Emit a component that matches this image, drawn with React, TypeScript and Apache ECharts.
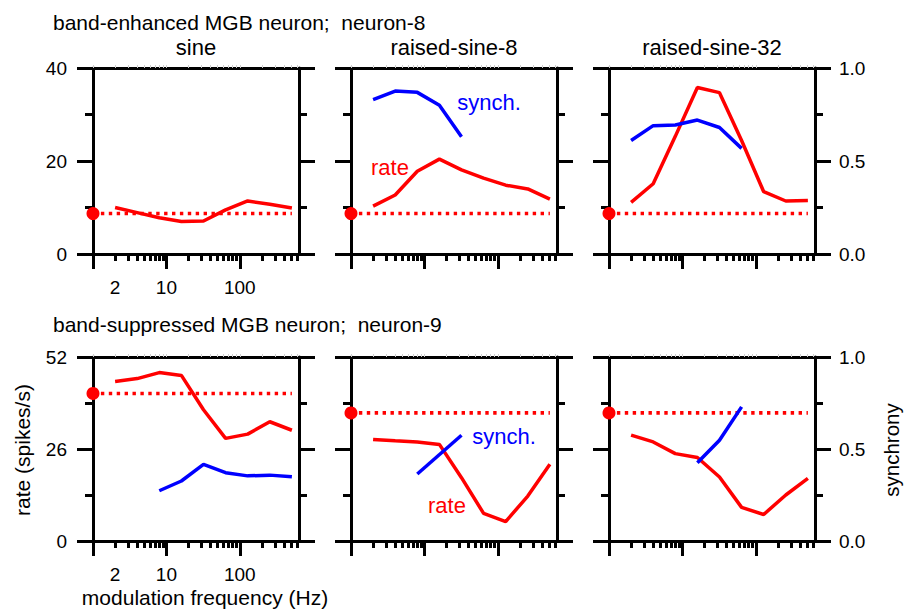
import React, { useEffect, useRef } from "react";
import * as echarts from "echarts";

// ---------- data ----------
const FREQS = [2, 4, 8, 16, 32, 64, 128, 256, 512];
const X_MAJOR_TICKS = [1, 10, 100];
const X_MINOR_TICKS = [2, 3, 4, 5, 6, 7, 8, 9, 20, 30, 40, 50, 60, 70, 80, 90, 200, 300, 400, 500, 600];
const X_TICK_LABELS = [2, 10, 100];
const X_MIN = 1;
const X_MAX = 640;
const SPONT_FREQ = 1;

const ROW_TITLES = ["band-enhanced MGB neuron;  neuron-8", "band-suppressed MGB neuron;  neuron-9"];
const PANEL_TITLES = ["sine", "raised-sine-8", "raised-sine-32"];
const RATE_MAX = [40, 52];

// neuron-8 (band-enhanced)
const rateN8Sine = [10.0, 8.9, 7.8, 7.0, 7.1, 9.5, 11.4, 10.7, 9.9];
const rateN8RS8 = [10.3, 12.7, 17.8, 20.4, 18.1, 16.3, 14.8, 14.0, 11.8];
const rateN8RS32 = [11.1, 15.1, 25.3, 35.8, 34.7, 24.4, 13.4, 11.4, 11.5];
const synchFreqN8RS8 = [2, 4, 8, 16, 32];
const synchN8RS8 = [0.83, 0.876, 0.869, 0.80, 0.63];
const synchFreqN8RS32 = [2, 4, 8, 16, 32, 64];
const synchN8RS32 = [0.61, 0.69, 0.694, 0.72, 0.68, 0.568];
const spontN8 = [8.7, 8.7, 8.7];

// neuron-9 (band-suppressed)
const rateN9Sine = [45.1, 45.9, 47.6, 46.8, 37.1, 29.0, 30.2, 33.7, 31.3];
const synchFreqN9Sine = [8, 16, 32, 64, 128, 256, 512];
const synchN9Sine = [0.273, 0.326, 0.416, 0.371, 0.354, 0.358, 0.349];
const rateN9RS8 = [28.7, 28.3, 28.0, 27.3, 17.9, 7.8, 5.5, 12.7, 21.7];
const synchFreqN9RS8 = [8, 32];
const synchN9RS8 = [0.364, 0.575];
const rateN9RS32 = [29.9, 28.0, 24.7, 23.6, 18.1, 9.5, 7.5, 13.0, 17.7];
const synchFreqN9RS32 = [16, 32, 64];
const synchN9RS32 = [0.425, 0.548, 0.729];
const spontN9 = [41.7, 36.2, 36.2];

const PANELS = [
  { row: 0, col: 0, rate: rateN8Sine, synchF: [] as number[], synch: [] as number[], spont: spontN8[0] },
  { row: 0, col: 1, rate: rateN8RS8, synchF: synchFreqN8RS8, synch: synchN8RS8, spont: spontN8[1] },
  { row: 0, col: 2, rate: rateN8RS32, synchF: synchFreqN8RS32, synch: synchN8RS32, spont: spontN8[2] },
  { row: 1, col: 0, rate: rateN9Sine, synchF: synchFreqN9Sine, synch: synchN9Sine, spont: spontN9[0] },
  { row: 1, col: 1, rate: rateN9RS8, synchF: synchFreqN9RS8, synch: synchN9RS8, spont: spontN9[1] },
  { row: 1, col: 2, rate: rateN9RS32, synchF: synchFreqN9RS32, synch: synchN9RS32, spont: spontN9[2] },
];

// ---------- layout / style ----------
const FONT = "'Liberation Sans', Arial, sans-serif";
const RED = "#ff0000";
const BLUE = "#0000ff";
const INK = "#000000";
const GRID_LEFT = [93, 351, 609];
const GRID_W = 206;
const GRID_TOP = [68, 357];
const GRID_H = [186, 184];

function buildOption() {
  const grid: any[] = [];
  const xAxis: any[] = [];
  const yAxis: any[] = [];
  const series: any[] = [];

  PANELS.forEach((p, k) => {
    grid.push({ left: GRID_LEFT[p.col], top: GRID_TOP[p.row], width: GRID_W, height: GRID_H[p.row], containLabel: false });
    const axisLine = { show: true, onZero: false, lineStyle: { color: INK, width: 3 } };
    // bottom main axis (major ticks + labels)
    xAxis.push({
      gridIndex: k, type: "log", logBase: 10, min: X_MIN, max: X_MAX, position: "bottom",
      axisLine,
      axisTick: { show: true, customValues: X_MAJOR_TICKS, length: 15, lineStyle: { color: INK, width: 3 } },
      axisLabel: { show: p.col === 0, customValues: X_TICK_LABELS, fontSize: 19, fontFamily: FONT, color: INK, margin: 24 },
      splitLine: { show: false },
    });
    // bottom minor ticks
    xAxis.push({
      gridIndex: k, type: "log", logBase: 10, min: X_MIN, max: X_MAX, position: "bottom",
      axisLine: { show: false, onZero: false },
      axisTick: { show: true, customValues: X_MINOR_TICKS, length: 7, lineStyle: { color: INK, width: 3 } },
      axisLabel: { show: false },
      splitLine: { show: false },
    });
    // top axis
    xAxis.push({
      gridIndex: k, type: "log", logBase: 10, min: X_MIN, max: X_MAX, position: "top",
      axisLine,
      axisTick: { show: true, customValues: X_MAJOR_TICKS.concat(X_MINOR_TICKS), length: 3, lineStyle: { color: "#cfcfcf", width: 1 } },
      axisLabel: { show: false },
      splitLine: { show: false },
    });
    const rmax = RATE_MAX[p.row];
    yAxis.push({
      gridIndex: k, type: "value", min: 0, max: rmax, interval: rmax / 2, position: "left",
      axisLine,
      axisTick: { show: true, length: 16, lineStyle: { color: INK, width: 3 } },
      minorTick: { show: true, splitNumber: 2, length: 8, lineStyle: { color: INK, width: 3 } },
      axisLabel: { show: p.col === 0, fontSize: 19, fontFamily: FONT, color: INK, margin: 26 },
      splitLine: { show: false },
    });
    yAxis.push({
      gridIndex: k, type: "value", min: 0, max: 1, interval: 0.5, position: "right",
      axisLine,
      axisTick: { show: true, length: 16, lineStyle: { color: INK, width: 3 } },
      minorTick: { show: true, splitNumber: 2, length: 8, lineStyle: { color: INK, width: 3 } },
      axisLabel: { show: p.col === 2, fontSize: 19, fontFamily: FONT, color: INK, margin: 24, formatter: (v: number) => v.toFixed(1) },
      splitLine: { show: false },
    });

    const xi = k * 3;
    const yi = k * 2;
    // spontaneous rate: dotted line + dot
    series.push({
      type: "line", xAxisIndex: xi, yAxisIndex: yi, clip: false, symbol: "none", silent: true,
      data: [[SPONT_FREQ, p.spont], [FREQS[FREQS.length - 1], p.spont]],
      lineStyle: { color: RED, width: 3.6, type: [3.4, 4.5] },
    });
    series.push({
      type: "scatter", xAxisIndex: xi, yAxisIndex: yi, clip: false, symbol: "circle", symbolSize: 13,
      data: [[SPONT_FREQ, p.spont]], itemStyle: { color: RED, opacity: 1 },
    });
    // rate
    series.push({
      type: "line", xAxisIndex: xi, yAxisIndex: yi, symbol: "none", clip: false,
      data: FREQS.map((f, i) => [f, p.rate[i]]),
      lineStyle: { color: RED, width: 3.5 },
    });
    // synchrony
    if (p.synch.length) {
      series.push({
        type: "line", xAxisIndex: xi, yAxisIndex: yi + 1, symbol: "none", clip: false,
        data: p.synchF.map((f, i) => [f, p.synch[i]]),
        lineStyle: { color: BLUE, width: 3.5 },
      });
    }
  });

  const txt = (text: string, x: number, y: number, opts: any = {}) => ({
    type: "text", x, y, rotation: opts.rotation || 0, silent: true,
    style: {
      text, fill: opts.fill || INK, fontSize: opts.fontSize || 21, fontFamily: FONT,
      align: opts.align || "center", verticalAlign: "middle",
    },
  });

  const graphic: any[] = [
    txt(ROW_TITLES[0], 53, 22, { align: "left" }),
    txt(ROW_TITLES[1], 53, 324, { align: "left" }),
    ...PANEL_TITLES.map((t, c) => txt(t, GRID_LEFT[c] + GRID_W / 2, 47, { fontSize: 22 })),
    txt("rate (spikes/s)", 22, 450, { rotation: Math.PI / 2 }),
    txt("synchrony", 891, 450, { rotation: Math.PI / 2, fontSize: 20.5 }),
    txt("modulation frequency (Hz)", 205, 597),
    txt("synch.", 489, 102, { fill: BLUE, fontSize: 22 }),
    txt("rate", 390, 167, { fill: RED, fontSize: 22 }),
    txt("synch.", 504, 436, { fill: BLUE, fontSize: 22 }),
    txt("rate", 447, 505, { fill: RED, fontSize: 22 }),
  ];

  return {
    animation: false,
    backgroundColor: "#ffffff",
    textStyle: { fontFamily: FONT },
    grid, xAxis, yAxis, series, graphic,
  };
}

export default function App() {
  const ref = useRef<HTMLDivElement>(null);
  useEffect(() => {
    const chart = echarts.init(ref.current!, null, { renderer: "svg" });
    chart.setOption(buildOption());
    return () => chart.dispose();
  }, []);
  return (
    <div
      ref={ref}
      style={{ position: "fixed", left: 0, top: 0, width: 904, height: 616, background: "#fff" }}
    />
  );
}
